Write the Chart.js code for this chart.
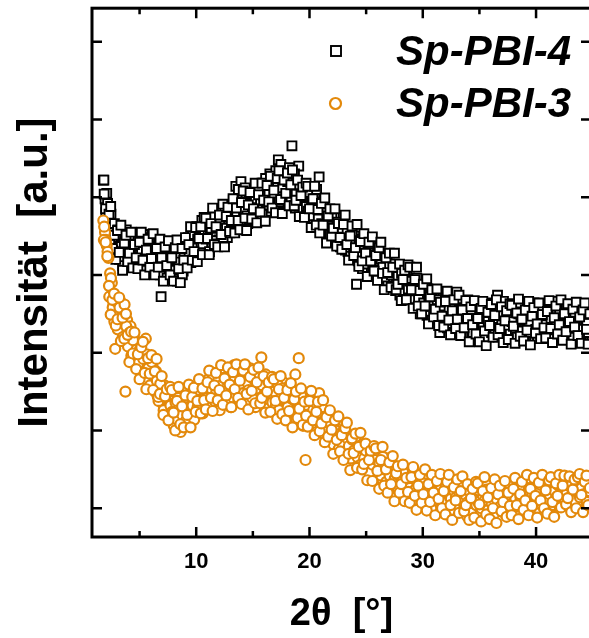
<!DOCTYPE html>
<html>
<head>
<meta charset="utf-8">
<title>Sp-PBI XRD</title>
<script src="https://cdn.jsdelivr.net/npm/chart.js@4/dist/chart.umd.min.js"></script>
<style>
  html, body { margin: 0; padding: 0; overflow: hidden; background: #fff; }
  #wrap { position: absolute; left: 0; top: 0; width: 600px; height: 638px; }
</style>
</head>
<body>
<div id="wrap"><canvas id="xrd" width="600" height="638"></canvas></div>
<script>
// 2theta-Raster des Scans (Grad), erster Durchgang
const twoTheta = [
  1.8,1.95,2.1,2.25,2.4,2.55,2.7,2.85,3,3.15,3.3,3.45,3.6,3.75,3.9,4.05,4.2,4.35,4.5,4.65,
  4.8,4.95,5.1,5.25,5.4,5.55,5.7,5.85,6,6.15,6.3,6.45,6.6,6.75,6.9,7.05,7.2,7.35,7.5,7.65,
  7.8,7.95,8.1,8.25,8.4,8.55,8.7,8.85,9,9.15,9.3,9.45,9.6,9.75,9.9,10.05,10.2,10.35,10.5,10.65,
  10.8,10.95,11.1,11.25,11.4,11.55,11.7,11.85,12,12.15,12.3,12.45,12.6,12.75,12.9,13.05,13.2,13.35,13.5,13.65,
  13.8,13.95,14.1,14.25,14.4,14.55,14.7,14.85,15,15.15,15.3,15.45,15.6,15.75,15.9,16.05,16.2,16.35,16.5,16.65,
  16.8,16.95,17.1,17.25,17.4,17.55,17.7,17.85,18,18.15,18.3,18.45,18.6,18.75,18.9,19.05,19.2,19.35,19.5,19.65,
  19.8,19.95,20.1,20.25,20.4,20.55,20.7,20.85,21,21.15,21.3,21.45,21.6,21.75,21.9,22.05,22.2,22.35,22.5,22.65,
  22.8,22.95,23.1,23.25,23.4,23.55,23.7,23.85,24,24.15,24.3,24.45,24.6,24.75,24.9,25.05,25.2,25.35,25.5,25.65,
  25.8,25.95,26.1,26.25,26.4,26.55,26.7,26.85,27,27.15,27.3,27.45,27.6,27.75,27.9,28.05,28.2,28.35,28.5,28.65,
  28.8,28.95,29.1,29.25,29.4,29.55,29.7,29.85,30,30.15,30.3,30.45,30.6,30.75,30.9,31.05,31.2,31.35,31.5,31.65,
  31.8,31.95,32.1,32.25,32.4,32.55,32.7,32.85,33,33.15,33.3,33.45,33.6,33.75,33.9,34.05,34.2,34.35,34.5,34.65,
  34.8,34.95,35.1,35.25,35.4,35.55,35.7,35.85,36,36.15,36.3,36.45,36.6,36.75,36.9,37.05,37.2,37.35,37.5,37.65,
  37.8,37.95,38.1,38.25,38.4,38.55,38.7,38.85,39,39.15,39.3,39.45,39.6,39.75,39.9,40.05,40.2,40.35,40.5,40.65,
  40.8,40.95,41.1,41.25,41.4,41.55,41.7,41.85,42,42.15,42.3,42.45,42.6,42.75,42.9,43.05,43.2,43.35,43.5,43.65,
  43.8,43.95,44.1,44.25,44.4,44.55,44.7,44.85
];
// zweiter Durchgang, um eine halbe Schrittweite versetzt
const twoThetaB = [
  1.875,2.025,2.175,2.325,2.475,2.625,2.775,2.925,3.075,3.225,3.375,3.525,3.675,3.825,3.975,4.125,4.275,4.425,4.575,4.725,
  4.875,5.025,5.175,5.325,5.475,5.625,5.775,5.925,6.075,6.225,6.375,6.525,6.675,6.825,6.975,7.125,7.275,7.425,7.575,7.725,
  7.875,8.025,8.175,8.325,8.475,8.625,8.775,8.925,9.075,9.225,9.375,9.525,9.675,9.825,9.975,10.125,10.275,10.425,10.575,10.725,
  10.875,11.025,11.175,11.325,11.475,11.625,11.775,11.925,12.075,12.225,12.375,12.525,12.675,12.825,12.975,13.125,13.275,13.425,13.575,13.725,
  13.875,14.025,14.175,14.325,14.475,14.625,14.775,14.925,15.075,15.225,15.375,15.525,15.675,15.825,15.975,16.125,16.275,16.425,16.575,16.725,
  16.875,17.025,17.175,17.325,17.475,17.625,17.775,17.925,18.075,18.225,18.375,18.525,18.675,18.825,18.975,19.125,19.275,19.425,19.575,19.725,
  19.875,20.025,20.175,20.325,20.475,20.625,20.775,20.925,21.075,21.225,21.375,21.525,21.675,21.825,21.975,22.125,22.275,22.425,22.575,22.725,
  22.875,23.025,23.175,23.325,23.475,23.625,23.775,23.925,24.075,24.225,24.375,24.525,24.675,24.825,24.975,25.125,25.275,25.425,25.575,25.725,
  25.875,26.025,26.175,26.325,26.475,26.625,26.775,26.925,27.075,27.225,27.375,27.525,27.675,27.825,27.975,28.125,28.275,28.425,28.575,28.725,
  28.875,29.025,29.175,29.325,29.475,29.625,29.775,29.925,30.075,30.225,30.375,30.525,30.675,30.825,30.975,31.125,31.275,31.425,31.575,31.725,
  31.875,32.025,32.175,32.325,32.475,32.625,32.775,32.925,33.075,33.225,33.375,33.525,33.675,33.825,33.975,34.125,34.275,34.425,34.575,34.725,
  34.875,35.025,35.175,35.325,35.475,35.625,35.775,35.925,36.075,36.225,36.375,36.525,36.675,36.825,36.975,37.125,37.275,37.425,37.575,37.725,
  37.875,38.025,38.175,38.325,38.475,38.625,38.775,38.925,39.075,39.225,39.375,39.525,39.675,39.825,39.975,40.125,40.275,40.425,40.575,40.725,
  40.875,41.025,41.175,41.325,41.475,41.625,41.775,41.925,42.075,42.225,42.375,42.525,42.675,42.825,42.975,43.125,43.275,43.425,43.575,43.725,
  43.875,44.025,44.175,44.325,44.475,44.625,44.775
];
// dritter Durchgang
const twoThetaC = [
  1.85,2,2.15,2.3,2.45,2.6,2.75,2.9,3.05,3.2,3.35,3.5,3.65,3.8,3.95,4.1,4.25,4.4,4.55,4.7,
  4.85,5,5.15,5.3,5.45,5.6,5.75,5.9,6.05,6.2,6.35,6.5,6.65,6.8,6.95,7.1,7.25,7.4,7.55,7.7,
  7.85,8,8.15,8.3,8.45,8.6,8.75,8.9,9.05,9.2,9.35,9.5,9.65,9.8,9.95,10.1,10.25,10.4,10.55,10.7,
  10.85,11,11.15,11.3,11.45,11.6,11.75,11.9,12.05,12.2,12.35,12.5,12.65,12.8,12.95,13.1,13.25,13.4,13.55,13.7,
  13.85,14,14.15,14.3,14.45,14.6,14.75,14.9,15.05,15.2,15.35,15.5,15.65,15.8,15.95,16.1,16.25,16.4,16.55,16.7,
  16.85,17,17.15,17.3,17.45,17.6,17.75,17.9,18.05,18.2,18.35,18.5,18.65,18.8,18.95,19.1,19.25,19.4,19.55,19.7,
  19.85,20,20.15,20.3,20.45,20.6,20.75,20.9,21.05,21.2,21.35,21.5,21.65,21.8,21.95,22.1,22.25,22.4,22.55,22.7,
  22.85,23,23.15,23.3,23.45,23.6,23.75,23.9,24.05,24.2,24.35,24.5,24.65,24.8,24.95,25.1,25.25,25.4,25.55,25.7,
  25.85,26,26.15,26.3,26.45,26.6,26.75,26.9,27.05,27.2,27.35,27.5,27.65,27.8,27.95,28.1,28.25,28.4,28.55,28.7,
  28.85,29,29.15,29.3,29.45,29.6,29.75,29.9,30.05,30.2,30.35,30.5,30.65,30.8,30.95,31.1,31.25,31.4,31.55,31.7,
  31.85,32,32.15,32.3,32.45,32.6,32.75,32.9,33.05,33.2,33.35,33.5,33.65,33.8,33.95,34.1,34.25,34.4,34.55,34.7,
  34.85,35,35.15,35.3,35.45,35.6,35.75,35.9,36.05,36.2,36.35,36.5,36.65,36.8,36.95,37.1,37.25,37.4,37.55,37.7,
  37.85,38,38.15,38.3,38.45,38.6,38.75,38.9,39.05,39.2,39.35,39.5,39.65,39.8,39.95,40.1,40.25,40.4,40.55,40.7,
  40.85,41,41.15,41.3,41.45,41.6,41.75,41.9,42.05,42.2,42.35,42.5,42.65,42.8,42.95,43.1,43.25,43.4,43.55,43.7,
  43.85,44,44.15,44.3,44.45,44.6,44.75
];

// Sp-PBI-4 (schwarz, Quadrate) - Intensitaet, willkuerliche Einheiten
const sp4 = [
  4.22,3.98,4.05,3.70,3.85,3.42,3.62,3.55,3.30,3.48,3.22,3.52,3.28,3.35,3.14,3.44,3.26,3.46,3.19,3.37,
  3.23,3.42,3.12,3.37,3.30,3.18,3.45,3.26,3.08,3.40,3.25,3.04,3.30,3.14,2.72,3.20,3.06,3.28,3.00,3.24,
  2.98,3.30,3.10,3.02,3.26,3.14,3.34,3.05,3.40,3.22,3.48,3.30,3.20,3.55,3.38,3.62,3.32,3.50,3.70,3.44,
  3.58,3.40,3.72,3.50,3.38,3.66,3.55,3.78,3.45,3.62,3.82,3.52,3.70,3.48,3.85,3.64,3.58,3.92,4.14,3.60,
  3.90,4.20,3.72,3.86,3.98,3.66,4.02,3.84,3.75,4.10,3.92,3.80,4.05,3.88,4.18,3.96,3.82,4.12,4.30,3.98,
  4.14,3.95,4.28,4.48,4.05,4.22,3.92,4.36,4.10,3.96,4.26,4.66,4.02,3.86,4.18,4.40,3.90,4.08,3.80,4.00,
  3.98,3.75,4.12,3.86,3.70,4.00,3.62,4.26,3.80,3.58,3.92,3.70,3.50,3.84,3.62,3.45,3.76,3.58,3.40,3.66,
  3.48,3.66,3.38,3.55,3.30,3.60,3.42,3.25,3.50,2.88,3.18,3.46,3.30,3.40,3.12,3.35,3.22,3.05,3.32,3.16,
  3.28,3.10,3.22,2.98,3.15,3.05,2.90,3.18,3.02,2.88,3.10,2.95,2.80,3.05,2.92,2.76,2.98,2.85,2.70,2.94,
  2.80,2.95,2.72,2.86,2.64,2.78,2.90,2.60,2.74,2.52,2.68,2.82,2.56,2.66,2.44,2.62,2.50,2.70,2.26,2.58,
  2.60,2.40,2.52,2.66,2.34,2.48,2.58,2.30,2.78,2.44,2.56,2.36,2.50,2.62,2.28,2.46,2.38,2.55,2.32,2.48,
  2.36,2.52,2.26,2.44,2.58,2.30,2.42,2.20,2.50,2.34,2.62,2.40,2.74,2.28,2.46,2.35,2.55,2.22,2.42,2.32,
  2.48,2.26,2.40,2.56,2.18,2.36,2.46,2.30,2.52,2.24,2.42,2.60,2.34,2.20,2.44,2.38,2.54,2.28,2.40,2.32,
  2.46,2.22,2.38,2.58,2.30,2.44,2.20,2.50,2.36,2.62,2.28,2.42,2.34,2.52,2.24,2.40,2.56,2.32,2.46,2.26,
  2.40,2.52,2.30,2.44,2.36,2.58,2.28,2.42
];
const sp4B = [
  4.04,3.80,3.92,3.55,3.78,3.32,3.66,3.24,3.58,3.20,3.50,3.12,3.46,3.58,3.18,3.34,3.50,3.10,3.40,3.22,
  3.46,3.16,3.30,3.52,3.06,3.34,3.20,3.48,3.12,3.02,3.36,3.22,3.44,3.00,3.26,3.10,3.34,2.96,3.16,3.08,
  3.20,3.06,3.36,2.92,3.18,3.28,3.00,3.22,3.12,3.44,3.30,3.16,3.52,3.40,3.26,3.46,3.58,3.36,3.40,3.62,
  3.46,3.68,3.30,3.60,3.76,3.44,3.64,3.40,3.72,3.58,3.48,3.88,3.60,3.76,3.54,3.72,3.96,3.62,3.80,4.10,
  3.70,3.94,3.82,4.12,3.76,3.92,3.70,4.06,3.86,3.98,3.72,4.14,3.96,3.78,4.02,4.24,3.90,4.06,3.94,4.20,
  4.02,4.34,4.16,3.94,4.42,4.12,4.30,4.00,4.20,4.38,3.98,4.14,4.30,4.04,3.92,4.16,4.02,3.84,4.12,3.88,
  3.82,4.06,3.92,3.76,3.98,4.10,3.72,3.88,3.66,3.94,3.56,3.80,3.68,3.52,3.74,3.58,3.42,3.68,3.50,3.36,
  3.60,3.40,3.32,3.56,3.46,3.24,3.52,3.34,3.44,3.20,3.38,3.28,3.08,3.44,3.24,3.14,3.30,3.40,3.10,3.26,
  3.16,3.34,3.06,3.20,3.10,2.96,3.24,2.86,3.12,3.00,2.84,3.14,2.88,2.98,2.74,3.02,2.80,2.92,3.06,2.82,
  2.92,2.68,2.84,2.58,2.96,2.70,2.50,2.80,2.64,2.86,2.48,2.72,2.60,2.42,2.74,2.54,2.68,2.38,2.60,2.48,
  2.46,2.70,2.32,2.56,2.42,2.62,2.26,2.50,2.38,2.66,2.44,2.24,2.58,2.36,2.68,2.40,2.54,2.26,2.44,2.60,
  2.28,2.46,2.60,2.34,2.18,2.50,2.40,2.64,2.26,2.44,2.30,2.54,2.20,2.48,2.36,2.66,2.30,2.44,2.58,2.24,
  2.40,2.58,2.30,2.20,2.50,2.64,2.28,2.42,2.16,2.56,2.38,2.26,2.48,2.64,2.30,2.18,2.50,2.40,2.60,2.24,
  2.36,2.54,2.18,2.44,2.30,2.66,2.34,2.24,2.52,2.40,2.20,2.48,2.58,2.28,2.44,2.34,2.20,2.52,2.38,2.62,
  2.30,2.46,2.22,2.56,2.38,2.26,2.50
];
const sp4C = [
  4.22,3.85,3.51,3.78,3.88,3.34,3.51,3.20,3.57,3.29,3.64,3.06,3.41,3.51,3.17,3.28,3.55,3.09,3.39,3.22,
  3.08,3.42,3.55,3.19,3.00,3.32,3.46,3.10,3.21,3.53,3.00,3.34,3.10,3.46,3.22,2.92,3.36,3.12,3.44,3.00,
  3.22,2.92,3.35,3.45,3.08,2.90,3.34,3.19,3.48,3.09,3.39,3.62,3.19,3.30,3.61,3.17,3.47,3.62,3.26,3.74,
  3.73,3.47,3.26,3.66,3.86,3.39,3.62,3.36,3.77,3.52,3.91,3.36,3.75,3.87,3.56,3.70,3.98,3.54,3.86,3.70,
  3.58,3.93,4.08,3.73,3.57,3.90,4.06,3.72,3.85,4.18,3.67,4.03,3.81,4.18,3.96,3.69,4.15,3.94,4.27,3.86,
  4.09,3.80,4.24,4.34,3.97,3.79,4.22,4.05,4.31,3.89,4.16,4.35,3.89,3.96,4.22,3.75,4.02,4.13,3.74,4.18,
  4.14,3.85,3.61,3.98,4.14,3.64,3.84,3.54,3.92,3.64,3.99,3.41,3.76,3.85,3.50,3.60,3.85,3.37,3.66,3.48,
  3.33,3.65,3.77,3.39,3.19,3.50,3.63,3.25,3.35,3.65,3.11,3.43,3.18,3.53,3.28,2.98,3.42,3.18,3.49,3.05,
  3.25,2.93,3.35,3.42,3.02,2.81,3.22,3.03,3.28,2.84,3.10,3.28,2.81,2.88,3.14,2.67,2.94,3.06,2.68,3.13,
  3.10,2.81,2.57,2.94,3.10,2.60,2.80,2.50,2.88,2.60,2.95,2.37,2.72,2.81,2.46,2.56,2.82,2.35,2.65,2.47,
  2.33,2.66,2.79,2.42,2.23,2.54,2.68,2.31,2.43,2.74,2.22,2.55,2.32,2.67,2.44,2.14,2.59,2.36,2.67,2.24,
  2.44,2.14,2.57,2.66,2.28,2.09,2.52,2.35,2.62,2.20,2.48,2.68,2.23,2.31,2.59,2.13,2.41,2.54,2.17,2.63,
  2.61,2.34,2.12,2.51,2.69,2.21,2.43,2.15,2.55,2.29,2.66,2.10,2.47,2.58,2.25,2.37,2.64,2.18,2.49,2.32,
  2.19,2.53,2.67,2.31,2.13,2.45,2.60,2.24,2.36,2.68,2.16,2.50,2.27,2.63,2.40,2.11,2.56,2.33,2.65,2.22,
  2.46,2.12,2.55,2.64,2.30,2.11,2.50
];

// Sp-PBI-3 (orange, Kreise)
const sp3 = [
  3.70,3.55,3.38,3.22,3.02,2.90,2.62,2.05,2.55,2.38,2.66,2.30,2.50,1.50,2.42,2.12,2.34,1.98,2.20,1.90,
  2.02,1.84,2.10,1.78,1.96,2.18,1.70,1.90,1.62,1.82,1.56,1.76,1.44,1.68,1.52,1.34,1.58,1.28,1.46,1.20,
  1.38,1.16,1.30,1.08,1.42,1.22,1.02,1.34,1.18,1.44,1.10,1.28,1.50,1.20,1.36,1.56,1.26,1.46,1.62,1.34,
  1.52,1.36,1.66,1.42,1.28,1.58,1.74,1.46,1.34,1.62,1.50,1.80,1.40,1.56,1.68,1.30,1.60,1.84,1.48,1.64,
  1.72,1.50,1.40,1.66,1.82,1.54,1.36,1.70,1.58,1.46,1.76,1.44,1.60,1.94,1.52,1.32,1.64,1.48,1.38,1.56,
  1.40,1.58,1.30,1.50,1.22,1.44,1.62,1.28,1.38,1.16,1.48,1.34,1.22,1.72,1.30,1.93,1.18,1.40,1.10,0.62,
  1.32,1.14,1.40,1.22,1.06,1.30,1.18,1.48,1.24,1.08,1.16,0.94,1.12,0.86,1.04,0.92,1.10,0.80,0.98,0.88,
  0.96,0.80,1.02,0.86,0.74,0.92,0.68,0.84,0.76,0.62,0.88,0.70,0.58,0.78,0.66,0.52,0.72,0.60,0.48,0.66,
  0.54,0.70,0.46,0.60,0.38,0.56,0.44,0.64,0.34,0.50,0.40,0.26,0.46,0.36,0.52,0.28,0.40,0.22,0.36,0.30,
  0.34,0.20,0.28,0.14,0.30,0.22,0.36,0.16,0.26,0.10,0.24,0.32,0.18,0.00,0.26,0.14,0.22,0.30,0.12,0.20,
  0.24,0.10,0.18,0.28,0.06,0.16,0.22,0.02,0.14,0.26,0.08,0.18,0.12,0.24,-0.10,0.16,0.10,0.20,0.00,0.12,
  0.14,-0.04,0.10,0.20,0.02,0.12,-0.08,0.08,0.18,0.04,0.14,-0.02,0.10,0.22,0.06,0.12,-0.06,0.16,0.08,0.02,
  0.16,0.30,0.06,0.12,-0.06,0.18,0.08,0.24,0.02,0.14,0.20,0.06,0.26,0.10,-0.04,0.16,0.22,0.08,0.18,0.12,
  0.20,0.08,0.26,0.14,0.30,0.04,0.18,0.24,0.10,0.28,0.16,0.06,0.22,0.32,0.12,0.20,0.02,0.26,0.14,0.38,
  0.22,0.10,0.28,0.16,0.24,0.06,0.20,0.30
];
const sp3B = [
  3.62,3.45,3.30,2.72,2.96,2.58,2.40,2.66,2.30,2.58,2.45,2.20,2.62,2.34,2.08,2.26,1.96,2.16,1.88,2.04,
  1.86,2.04,1.74,1.92,1.66,1.98,1.80,1.58,1.88,1.70,1.50,1.64,1.38,1.60,1.46,1.26,1.42,1.52,1.14,1.32,
  1.24,1.06,1.36,1.14,1.28,0.98,1.20,1.40,1.12,1.30,1.24,1.46,1.32,1.14,1.42,1.30,1.52,1.38,1.22,1.50,
  1.42,1.60,1.32,1.54,1.70,1.38,1.50,1.64,1.26,1.58,1.44,1.68,1.54,1.36,1.76,1.50,1.42,1.66,1.56,1.38,
  1.60,1.76,1.48,1.34,1.62,1.52,1.80,1.42,1.66,1.30,1.54,1.70,1.38,1.58,1.46,1.72,1.28,1.52,1.62,1.36,
  1.50,1.32,1.60,1.26,1.42,1.54,1.20,1.46,1.30,1.58,1.24,1.40,1.52,1.14,1.36,1.26,1.44,1.06,1.30,1.20,
  1.20,1.38,1.08,1.26,1.36,0.98,1.22,1.10,1.30,0.96,1.14,1.04,0.90,1.08,0.96,0.82,1.00,0.90,0.76,0.96,
  0.84,0.98,0.72,0.90,0.80,0.64,0.88,0.74,0.92,0.66,0.78,0.56,0.82,0.64,0.74,0.58,0.46,0.68,0.56,0.72,
  0.62,0.48,0.58,0.42,0.66,0.50,0.34,0.52,0.42,0.30,0.56,0.38,0.44,0.24,0.42,0.34,0.46,0.30,0.18,0.38,
  0.26,0.40,0.16,0.24,0.34,0.10,0.28,0.18,0.32,0.20,0.08,0.28,0.16,0.30,0.10,0.22,0.34,0.14,0.24,0.06,
  0.16,0.30,0.08,0.20,0.12,-0.02,0.22,0.14,0.04,0.20,0.10,0.28,0.02,0.16,0.08,0.22,-0.06,0.14,0.20,0.04,
  0.08,0.22,0.00,0.16,0.10,0.24,-0.02,0.14,0.06,0.20,-0.06,0.12,0.18,0.02,0.16,0.08,0.24,0.04,0.14,0.28,
  0.06,0.20,0.12,0.02,0.22,0.14,0.30,0.04,0.16,0.10,0.26,0.00,0.18,0.12,0.24,0.06,0.20,0.30,0.10,0.16,
  0.24,0.12,0.18,0.34,0.08,0.22,0.14,0.30,0.02,0.20,0.26,0.12,0.18,0.06,0.28,0.16,0.24,0.10,0.32,0.20,
  0.14,0.26,0.18,0.34,0.08,0.22,0.28
];
const sp3C = [
  3.45,3.42,3.24,2.86,2.49,2.68,2.76,2.35,2.43,2.71,2.15,2.45,2.18,2.50,2.23,1.88,2.27,1.99,2.26,1.79,
  1.98,1.66,2.07,2.14,1.74,1.53,1.93,1.73,1.97,1.52,1.76,1.92,1.43,1.47,1.70,1.20,1.44,1.53,1.13,1.56,
  1.52,1.23,1.00,1.38,1.56,1.08,1.31,1.04,1.45,1.20,1.59,1.04,1.43,1.55,1.24,1.38,1.66,1.22,1.54,1.39,
  1.27,1.62,1.77,1.42,1.25,1.58,1.74,1.39,1.52,1.84,1.33,1.67,1.45,1.81,1.59,1.30,1.75,1.53,1.85,1.42,
  1.64,1.34,1.77,1.85,1.47,1.27,1.69,1.51,1.78,1.35,1.62,1.81,1.35,1.42,1.70,1.23,1.50,1.62,1.24,1.69,
  1.66,1.38,1.15,1.53,1.70,1.21,1.42,1.13,1.52,1.25,1.61,1.04,1.40,1.50,1.16,1.28,1.54,1.07,1.37,1.19,
  1.05,1.38,1.51,1.13,0.94,1.24,1.37,0.99,1.09,1.39,0.85,1.17,0.92,1.26,1.01,0.70,1.13,0.88,1.18,0.73,
  0.94,0.62,1.03,1.10,0.70,0.49,0.90,0.71,0.96,0.52,0.79,0.97,0.50,0.57,0.83,0.36,0.62,0.74,0.35,0.80,
  0.77,0.48,0.25,0.62,0.79,0.29,0.50,0.20,0.59,0.31,0.67,0.09,0.45,0.54,0.20,0.31,0.56,0.09,0.39,0.21,
  0.07,0.40,0.53,0.16,-0.02,0.29,0.43,0.07,0.18,0.50,-0.03,0.31,0.08,0.43,0.20,-0.09,0.35,0.12,0.44,0.00,
  0.22,-0.08,0.34,0.43,0.04,-0.15,0.27,0.10,0.37,-0.06,0.22,0.41,-0.04,0.04,0.31,-0.15,0.13,0.25,-0.12,0.34,
  0.32,0.05,-0.17,0.22,0.40,-0.08,0.14,-0.14,0.26,0.00,0.37,-0.19,0.18,0.29,-0.04,0.08,0.35,-0.11,0.20,0.03,
  -0.09,0.25,0.39,0.04,-0.14,0.18,0.34,-0.02,0.10,0.43,-0.09,0.25,0.03,0.39,0.16,-0.12,0.33,0.10,0.43,0.00,
  0.23,-0.07,0.36,0.40,0.08,-0.11,0.32,0.16,0.43,0.01,0.29,0.42,0.05,0.13,0.41,-0.05,0.24,0.37,0.00,0.40,
  0.44,0.17,-0.05,0.34,0.42,0.04,0.26
];

const seriesNames = ['Sp-PBI-4', 'Sp-PBI-3'];
const xTicks = [10, 20, 30, 40];       // beschriftete Ticks
const xMinorTicks = [5, 15, 25, 35];
const yTicks = [0, 1, 2, 3, 4, 5, 6];  // Ticks ohne Beschriftung

const ORANGE = '#E3890B';
const FONT = '"Liberation Sans", Arial, sans-serif';

// Rahmen, nach innen zeigende Ticks und Legende
const framePlugin = {
    id: 'frame',
    afterDatasetsDraw(chart) {
        const { ctx, chartArea: a, scales: { x, y } } = chart;
        ctx.save();
        ctx.strokeStyle = '#000';
        ctx.lineWidth = 3;
        ctx.strokeRect(a.left, a.top, a.right - a.left, a.bottom - a.top);

        ctx.lineWidth = 2.5;
        ctx.beginPath();
        const tickX = (v, len) => {
            const px = x.getPixelForValue(v);
            ctx.moveTo(px, a.bottom); ctx.lineTo(px, a.bottom - len);
            ctx.moveTo(px, a.top); ctx.lineTo(px, a.top + len);
        };
        xTicks.forEach(v => tickX(v, 10));
        xMinorTicks.forEach(v => tickX(v, 6));
        yTicks.forEach(v => {
            const py = y.getPixelForValue(v);
            ctx.moveTo(a.left, py); ctx.lineTo(a.left + 10, py);
            ctx.moveTo(a.right, py); ctx.lineTo(a.right - 10, py);
        });
        ctx.stroke();

        // Legende
        ctx.lineWidth = 1.9;
        ctx.strokeStyle = '#000';
        ctx.fillStyle = '#fff';
        ctx.fillRect(331, 46, 10, 10);
        ctx.strokeRect(331, 46, 10, 10);
        ctx.lineWidth = 2.2;
        ctx.strokeStyle = ORANGE;
        ctx.beginPath();
        ctx.arc(335.5, 103.5, 5.5, 0, Math.PI * 2);
        ctx.stroke();

        ctx.fillStyle = '#000';
        ctx.font = 'italic bold 42px ' + FONT;
        ctx.textBaseline = 'alphabetic';
        ctx.fillText(seriesNames[0], 396, 65);
        ctx.fillText(seriesNames[1], 396, 117);
        ctx.restore();
    }
};

// alle Durchgaenge in einen Datensatz zusammenfuehren
const pts = (xs, vals) => xs.map((t, i) => ({ x: t, y: vals[i] }));

new Chart(document.getElementById('xrd'), {
    type: 'scatter',
    data: {
        datasets: [
            {
                label: seriesNames[0],
                data: pts(twoTheta, sp4).concat(pts(twoThetaB, sp4B), pts(twoThetaC, sp4C)),
                pointStyle: 'rect',
                pointRadius: 6.3,
                borderWidth: 1.9,
                borderColor: '#000',
                backgroundColor: '#fff',
                order: 1
            },
            {
                label: seriesNames[1],
                data: pts(twoTheta, sp3).concat(pts(twoThetaB, sp3B), pts(twoThetaC, sp3C)),
                pointStyle: 'circle',
                pointRadius: 5,
                borderWidth: 2.2,
                borderColor: ORANGE,
                backgroundColor: '#fff',
                order: 0
            }
        ]
    },
    options: {
        responsive: false,
        devicePixelRatio: 1,
        animation: false,
        events: [],
        layout: { padding: { top: 8, right: 9, left: 0, bottom: 0 } },
        plugins: {
            legend: { display: false },
            tooltip: { enabled: false }
        },
        scales: {
            x: {
                type: 'linear',
                min: 0.8,
                max: 44.85,
                afterBuildTicks: s => { s.ticks = xTicks.map(v => ({ value: v })); },
                afterFit: s => { s.height = 101; },
                grid: { display: false, drawTicks: false },
                border: { display: false },
                ticks: {
                    color: '#000',
                    font: { family: FONT, size: 22, weight: 'bold' },
                    padding: 12,
                    maxRotation: 0,
                    autoSkip: false
                },
                title: {
                    display: true,
                    text: '2θ  [°]',
                    color: '#000',
                    font: { family: FONT, size: 38, weight: 'bold', lineHeight: 1 },
                    padding: { top: 0, bottom: 4 }
                }
            },
            y: {
                min: -0.37,
                max: 6.43,
                afterFit: s => { s.width = 92; },
                grid: { display: false, drawTicks: false },
                border: { display: false },
                ticks: { display: false },
                title: {
                    display: true,
                    text: 'Intensität  [a.u.]',
                    color: '#000',
                    font: { family: FONT, size: 42, weight: 'bold', lineHeight: 1.2 },
                    padding: { top: 10, bottom: 0 }
                }
            }
        }
    },
    plugins: [framePlugin]
});
</script>
</body>
</html>
